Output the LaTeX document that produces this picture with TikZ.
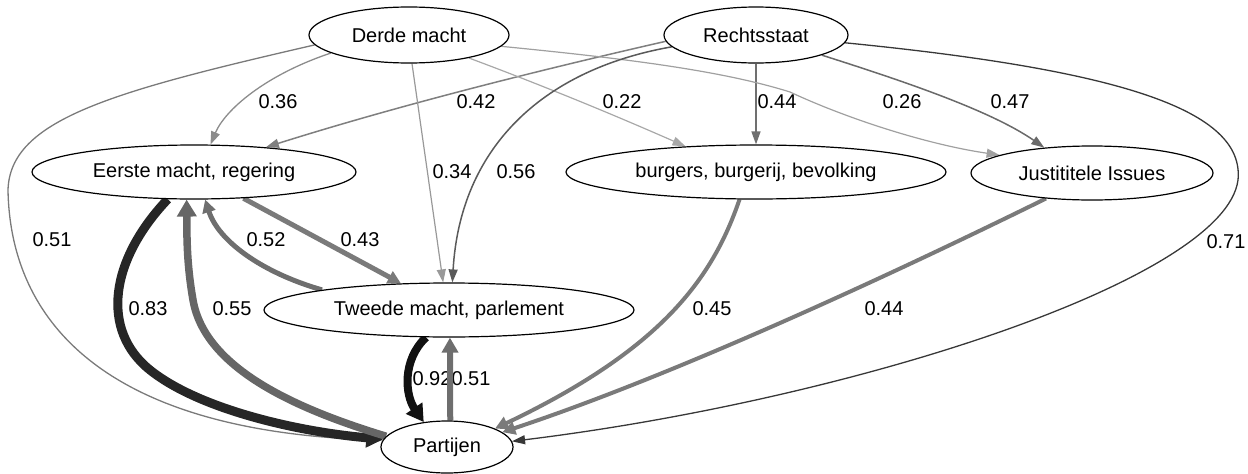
\documentclass[tikz,border=0pt]{standalone}
\usepackage{fontspec}
\setmainfont{Liberation Sans}
\usetikzlibrary{shapes.geometric,arrows.meta}
\pgfdeclarelayer{bg}
\pgfdeclarelayer{lab}
\pgfsetlayers{lab,bg,main}
\definecolor{cA}{HTML}{8C8C8C}
\definecolor{cB}{HTML}{7F7F7F}
\definecolor{cC}{HTML}{A8A8A8}
\definecolor{cD}{HTML}{707070}
\definecolor{cE}{HTML}{A0A0A0}
\definecolor{cF}{HTML}{6A6A6A}
\definecolor{cG}{HTML}{999999}
\definecolor{cH}{HTML}{5A5A5A}
\definecolor{cI}{HTML}{7A7A7A}
\definecolor{cJ}{HTML}{383838}
\definecolor{cK}{HTML}{262626}
\definecolor{cL}{HTML}{666666}
\definecolor{cM}{HTML}{111111}
\definecolor{cN}{HTML}{6E6E6E}
\tikzset{
  vnode/.style={ellipse, draw=black, line width=1.2pt, fill=white, inner sep=0pt, font=\fontsize{20}{22}\selectfont},
  elabel/.style={font=\fontsize{20}{22}\selectfont, inner sep=0pt},
  thin edge/.style={line width=1.3pt, -{Triangle[length=13pt,width=9pt]}},
  mid edge/.style={line width=4pt, -{Triangle[length=13pt,width=13pt]}},
  big edge/.style={-{Triangle[length=17pt,width=19pt]}},
}
\begin{document}
\begin{tikzpicture}[x=1pt,y=-1pt]
\useasboundingbox (0,0) rectangle (1248,474);
% nodes
\node[vnode, minimum width=200pt, minimum height=56pt] (der) at (409,35) {Derde macht};
\node[vnode, minimum width=184pt, minimum height=56pt] (rec) at (756,35) {Rechtsstaat};
\node[vnode, minimum width=324pt, minimum height=54pt] (eer) at (194,172) {Eerste macht, regering};
\node[vnode, minimum width=380pt, minimum height=54pt] (bur) at (756,172) {burgers, burgerij, bevolking};
\node[vnode, minimum width=242pt, minimum height=54pt] (jus) at (1092,173) {Justititele Issues};
\node[vnode, minimum width=370pt, minimum height=54pt] (twe) at (449,310) {Tweede macht, parlement};
\node[vnode, minimum width=132pt, minimum height=52pt] (par) at (447,447) {Partijen};
% labels
\begin{pgfonlayer}{lab}
\node[elabel] (l036) at (278,102) {0.36};
\node[elabel] (l042) at (476,102) {0.42};
\node[elabel] (l022) at (622,102) {0.22};
\node[elabel] (l044a) at (777,102) {0.44};
\node[elabel] (l026) at (902,102) {0.26};
\node[elabel] (l047) at (1010,102) {0.47};
\node[elabel] (l034) at (452,172) {0.34};
\node[elabel] (l056) at (516,172) {0.56};
\node[elabel] (l051a) at (52,240) {0.51};
\node[elabel] (l052) at (266,240) {0.52};
\node[elabel] (l043) at (360,240) {0.43};
\node[elabel] (l071) at (1226,242) {0.71};
\node[elabel] (l083) at (148,309) {0.83};
\node[elabel] (l055) at (232,309) {0.55};
\node[elabel] (l045) at (712,309) {0.45};
\node[elabel] (l044b) at (884,309) {0.44};
\node[elabel] (l092) at (432,379) {0.92};
\node[elabel] (l051b) at (471,379) {0.51};
\end{pgfonlayer}
% edges
\begin{pgfonlayer}{bg}
\draw[thin edge, cA] (der.193.7) .. controls (265,75) and (225,110) .. (eer.59.3);
\draw[thin edge, cB, line width=1.5pt] (rec.184.5) .. controls (540,70) and (400,105) .. (eer.19.1);
\draw[thin edge, cC, line width=1.2pt] (der.339.2) .. controls (560,92) and (630,122) .. (bur.160.1);
\draw[thin edge, cD, line width=1.5pt] (rec.270) -- (bur.90);
\draw[thin edge, cE, line width=1.2pt] (der.353.6) .. controls (620,58) and (720,70) .. (790,92) .. controls (850,120) and (930,145) .. (jus.169.9);
\draw[thin edge, cF, line width=1.5pt] (rec.343.1) .. controls (900,80) and (990,110) .. (jus.152.1);
\draw[thin edge, cG, line width=1.2pt] (der.276) -- (twe.102.5);
\draw[thin edge, cH, line width=1.5pt] (rec.188.4) .. controls (540,70) and (460,150) .. (twe.83.7);
\draw[thin edge, cI] (der.186.5) .. controls (110,92) and (10,120) .. (8,190) .. controls (10,310) and (90,430) .. (par.174.7);
\draw[thin edge, cJ] (rec.355.6) .. controls (1120,70) and (1245,110) .. (1238,180) .. controls (1225,280) and (850,400) .. (par.5.4);
\draw[mid edge, cI, line width=5pt] (eer.332.1) -- (twe.151.1);
\draw[mid edge, cN, line width=5pt] (twe.171.3) .. controls (260,272) and (218,240) .. (eer.292.2);
\draw[big edge, cK, line width=9pt] (eer.226.1) .. controls (110,260) and (100,330) .. (150,370) .. controls (200,410) and (300,432) .. (par.173.9);
\draw[big edge, cL, line width=7.5pt] (par.170.2) .. controls (300,410) and (205,370) .. (193,300) .. controls (186,260) and (187,230) .. (eer.255.5);
\draw[big edge, cM, line width=8pt] (twe.230.6) .. controls (402,360) and (405,395) .. (par.133.9);
\draw[cN, line width=6pt, -{Triangle[length=15pt,width=16pt]}] (par.83.4) -- (twe.272.1);
\draw[mid edge, cI] (bur.239.3) .. controls (712,280) and (660,350) .. (par.21);
\draw[mid edge, cI] (jus.209.9) .. controls (860,290) and (660,380) .. (par.15.3);
\end{pgfonlayer}
\end{tikzpicture}
\end{document}
